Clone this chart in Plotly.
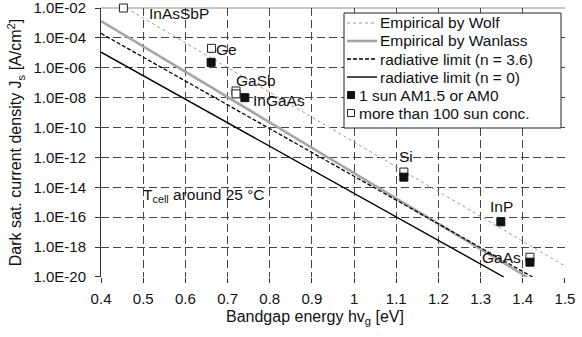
import math
import plotly.graph_objects as go

# ---- data ----
wolf_x = [0.46, 1.50]
wolf_y = [1.0e-2, 5.4e-20]
wanlass_x = [0.40, 1.41]
wanlass_y = [1.35e-3, 1.0e-20]
rad36_x = [0.40, 1.423]
rad36_y = [2.0e-4, 1.0e-20]
rad0_x = [0.40, 1.355]
rad0_y = [1.12e-5, 1.0e-20]

one_sun_names = ["Ge", "InGaAs", "Si", "InP", "GaAs"]
one_sun_x = [0.661, 0.741, 1.118, 1.348, 1.417]
one_sun_y = [2.3e-6, 1.0e-8, 4.8e-14, 4.9e-17, 9.8e-20]

conc_names = ["InAsSbP", "Ge", "GaSb", "GaSb", "Si", "GaAs"]
conc_x = [0.453, 0.662, 0.720, 0.720, 1.118, 1.417]
conc_y = [1.0e-2, 2.0e-5, 2.8e-8, 1.8e-8, 1.05e-13, 2.1e-19]

label_text = ["InAsSbP", "Ge", "GaSb", "InGaAs", "Si", "InP", "GaAs"]
label_x = [0.511, 0.670, 0.718, 0.758, 1.104, 1.320, 1.301]
label_y = [4.0e-3, 1.8e-5, 1.5e-7, 6.9e-9, 1.2e-12, 5.5e-16, 2.1e-19]

x_ticks = [0.4, 0.5, 0.6, 0.7, 0.8, 0.9, 1.0, 1.1, 1.2, 1.3, 1.4, 1.5]
x_ticktext = ["0.4", "0.5", "0.6", "0.7", "0.8", "0.9", "1", "1.1", "1.2", "1.3", "1.4", "1.5"]
y_ticks = [1e-2, 1e-4, 1e-6, 1e-8, 1e-10, 1e-12, 1e-14, 1e-16, 1e-18, 1e-20]
y_ticktext = ["1.0E-02", "1.0E-04", "1.0E-06", "1.0E-08", "1.0E-10", "1.0E-12",
              "1.0E-14", "1.0E-16", "1.0E-18", "1.0E-20"]

FONT = "Liberation Sans, Arial, sans-serif"
FS = 15
FS_LEG = 15.5
FS_TITLE = 16
FS_LAB = 15.5

W, H = 582, 337
ML, MR, MT, MB = 101, 17, 8, 60
PW, PH = W - ML - MR, H - MT - MB


def px_x(px):
    return (px - ML) / PW


def px_y(py):
    return (H - MB - py) / PH


fig = go.Figure()
fig.add_trace(go.Scatter(x=wolf_x, y=wolf_y, mode="lines", name="Empirical by Wolf",
                         line=dict(color="#9a9a9a", width=1, dash="3px,3px")))
fig.add_trace(go.Scatter(x=wanlass_x, y=wanlass_y, mode="lines", name="Empirical by Wanlass",
                         line=dict(color="#a6a6a6", width=2.6)))
fig.add_trace(go.Scatter(x=rad36_x, y=rad36_y, mode="lines", name="radiative limit (n = 3.6)",
                         line=dict(color="#000000", width=1.3, dash="4px,2px")))
fig.add_trace(go.Scatter(x=rad0_x, y=rad0_y, mode="lines", name="radiative limit (n = 0)",
                         line=dict(color="#000000", width=1.4)))
fig.add_trace(go.Scatter(x=conc_x, y=conc_y, mode="markers", name="more than 100 sun conc.",
                         text=conc_names, cliponaxis=False,
                         marker=dict(symbol="square", size=8, color="white",
                                     line=dict(color="#222222", width=1))))
fig.add_trace(go.Scatter(x=one_sun_x, y=one_sun_y, mode="markers", name="1 sun AM1.5 or AM0",
                         text=one_sun_names, cliponaxis=False,
                         marker=dict(symbol="square", size=8, color="#111111",
                                     line=dict(color="#111111", width=1))))

annotations = []
for t, x, y in zip(label_text, label_x, label_y):
    annotations.append(dict(x=x, y=math.log10(y), xref="x", yref="y", yanchor="middle",
                            xanchor="left", text=t, showarrow=False,
                            font=dict(size=FS_LAB, color="#111111"), borderpad=0))
annotations.append(dict(x=0.497, y=math.log10(3.0e-15), xref="x", yref="y", xanchor="left",
                        yanchor="middle", text="T<sub>cell</sub> around 25 °C", showarrow=False,
                        font=dict(size=FS_LAB, color="#111111"), borderpad=0))
# x-axis title (placed slightly left of centre, as in the reference)
annotations.append(dict(x=px_x(315), y=px_y(317), xref="paper", yref="paper",
                        xanchor="center", yanchor="middle",
                        text="Bandgap energy hv<sub>g</sub> [eV]", showarrow=False,
                        font=dict(size=FS_TITLE, color="#111111"), borderpad=0))

# ---- hand-drawn legend box (layout decoration) ----
shapes = [dict(type="line", xref="paper", yref="paper", x0=0, x1=1, y0=1, y1=1,
               line=dict(color="#8c8c8c", width=1), layer="below")]
shapes.append(dict(type="rect", xref="paper", yref="paper",
                   x0=px_x(344), x1=px_x(561), y0=px_y(128), y1=px_y(13),
                   fillcolor="white", line=dict(color="#222222", width=1), layer="above"))
row_y = [23, 41, 59, 77, 95, 113]
for i in range(4):
    ln = fig.data[i].line
    shapes.append(dict(type="line", xref="paper", yref="paper",
                       x0=px_x(347), x1=px_x(377), y0=px_y(row_y[i]), y1=px_y(row_y[i]),
                       line=dict(color=ln.color, width=ln.width, dash=ln.dash), layer="above"))
    annotations.append(dict(x=px_x(379), y=px_y(row_y[i]), xref="paper", yref="paper",
                            xanchor="left", yanchor="middle", text=fig.data[i].name,
                            showarrow=False, font=dict(size=FS_LEG, color="#111111"), borderpad=0))
for i, tr in zip([4, 5], [fig.data[5], fig.data[4]]):
    shapes.append(dict(type="rect", xref="paper", yref="paper",
                       x0=px_x(347.5), x1=px_x(354.5), y0=px_y(row_y[i] + 3.5), y1=px_y(row_y[i] - 3.5),
                       fillcolor=tr.marker.color, line=dict(color=tr.marker.line.color, width=1),
                       layer="above"))
    annotations.append(dict(x=px_x(358), y=px_y(row_y[i]), xref="paper", yref="paper",
                            xanchor="left", yanchor="middle", text=tr.name,
                            showarrow=False, font=dict(size=FS_LEG, color="#111111"), borderpad=0))

GRID = dict(showgrid=True, gridcolor="#474747", gridwidth=1.1, griddash="8px,4px")

fig.update_layout(
    width=W, height=H,
    margin=dict(l=ML, r=MR, t=MT, b=MB, autoexpand=False),
    paper_bgcolor="white", plot_bgcolor="white",
    font=dict(family=FONT, size=FS, color="#111111"),
    showlegend=False,
    annotations=annotations,
    shapes=shapes,
    xaxis=dict(range=[0.3999, 1.5001], tickvals=x_ticks, ticktext=x_ticktext,
               automargin=False, ticklabeloverflow="allow", **GRID,
               zeroline=False, showline=False, ticks="outside", ticklen=5,
               tickcolor="#333333", ticklabelstandoff=3, tickfont=dict(size=FS)),
    yaxis=dict(type="log", range=[-20.0005, -1.9995], tickvals=y_ticks, ticktext=y_ticktext,
               automargin=False, ticklabeloverflow="allow", **GRID,
               zeroline=False, showline=True, linecolor="#333333", linewidth=1,
               ticks="outside", ticklen=5, tickcolor="#333333", ticklabelstandoff=6,
               tickfont=dict(size=FS),
               title=dict(text="Dark sat. current density J<sub>s</sub> [A/cm<sup>2</sup>]",
                          font=dict(size=FS_TITLE), standoff=7)),
)

fig.write_html("out.html", config={"displayModeBar": False},
               post_script="document.body.style.margin='0px';")
